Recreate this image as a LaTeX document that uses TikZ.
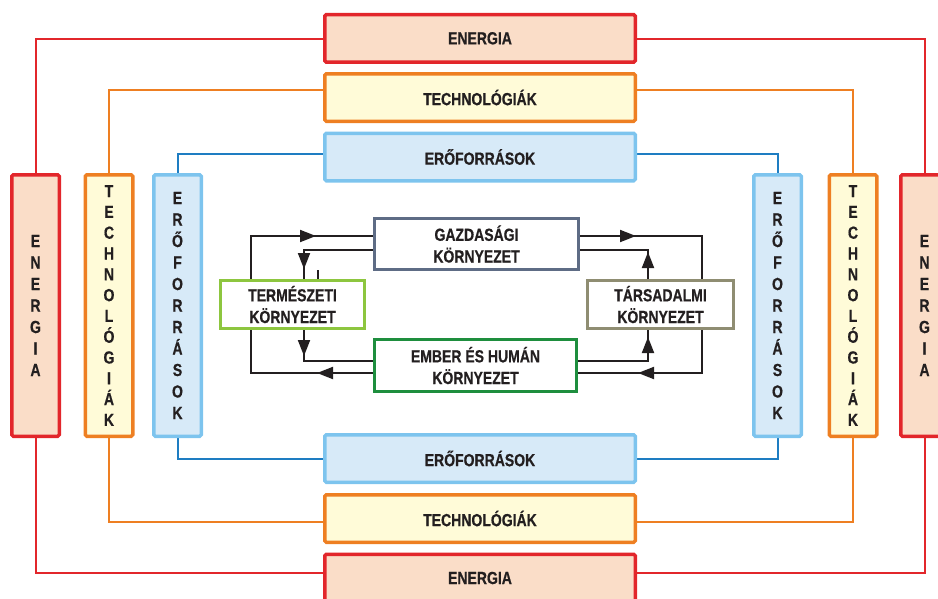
\documentclass[tikz,border=0pt]{standalone}
\usepackage{fontspec}
\setmainfont[FakeStretch=0.8, BoldFeatures={FakeBold=0.6}]{Liberation Sans}
\usepackage{tikz}
\usetikzlibrary{arrows.meta,decorations.markings,backgrounds}

\definecolor{ink}{HTML}{231F20}
\definecolor{enline}{HTML}{E2262B}
\definecolor{enfill}{HTML}{FADDC8}
\definecolor{teline}{HTML}{EE7F22}
\definecolor{tefill}{HTML}{FFFBD8}
\definecolor{erline}{HTML}{7DC4EE}
\definecolor{erfill}{HTML}{D7EAF8}
\definecolor{erwire}{HTML}{1E7DC2}
\definecolor{gazcol}{HTML}{5E6C85}
\definecolor{tercol}{HTML}{8DC63F}
\definecolor{embcol}{HTML}{1E8E3E}
\definecolor{tarcol}{HTML}{8F8D72}

\begin{document}
\begin{tikzpicture}[x=1pt,y=-1pt,
  hbox/.style={draw, line width=3.5pt, rounded corners=1.5pt, inner sep=0pt,
    minimum width=310.5pt, minimum height=47.5pt, text=ink,
    font=\fontsize{17.5}{21}\selectfont\bfseries},
  vbox/.style={hbox, minimum width=47.5pt, minimum height=261.5pt, align=center,
    font=\fontsize{17.5}{21.5}\selectfont\bfseries},
  kbox/.style={draw, line width=3pt, fill=white, inner sep=0pt, align=center, text=ink,
    font=\fontsize{17.5}{21.7}\selectfont\bfseries},
  wire/.style={line width=2pt},
  flow/.style={draw=ink, line width=1.9pt},
  arrowat/.style={postaction={decorate, decoration={markings,
    mark=at position #1 with {\arrow{Triangle[length=16pt,width=12pt]}}}}}
]
  \useasboundingbox (0,0) rectangle (938,598);
  \clip (0,0) rectangle (938,598);

  % horizontal bands, top and bottom
  \node[hbox, draw=enline, fill=enfill] (enT) at (480,38.3) {ENERGIA};
  \node[hbox, draw=teline, fill=tefill] (teT) at (480,97.5) {TECHNOLÓGIÁK};
  \node[hbox, draw=erline, fill=erfill] (erT) at (480,157) {ERŐFORRÁSOK};
  \node[hbox, draw=erline, fill=erfill] (erB) at (480,458.5) {ERŐFORRÁSOK};
  \node[hbox, draw=teline, fill=tefill] (teB) at (480,518.5) {TECHNOLÓGIÁK};
  \node[hbox, draw=enline, fill=enfill] (enB) at (480,578) {ENERGIA};

  % vertical bands, left and right
  \node[vbox, draw=enline, fill=enfill] (enL) at (35.5,305.5) {E\\N\\E\\R\\G\\I\\A};
  \node[vbox, draw=teline, fill=tefill, font=\fontsize{17.5}{20.8}\selectfont\bfseries]
    (teL) at (109,305.5) {T\\E\\C\\H\\N\\O\\L\\Ó\\G\\I\\Á\\K};
  \node[vbox, draw=erline, fill=erfill] (erL) at (177.5,305.5) {E\\R\\Ő\\F\\O\\R\\R\\Á\\S\\O\\K};
  \node[vbox, draw=erline, fill=erfill] (erR) at (777.5,305.5) {E\\R\\Ő\\F\\O\\R\\R\\Á\\S\\O\\K};
  \node[vbox, draw=teline, fill=tefill, font=\fontsize{17.5}{20.8}\selectfont\bfseries]
    (teR) at (853,305.5) {T\\E\\C\\H\\N\\O\\L\\Ó\\G\\I\\Á\\K};
  \node[vbox, draw=enline, fill=enfill] (enR) at (924.5,305.5) {E\\N\\E\\R\\G\\I\\A};

  % the four environments
  \node[kbox, draw=gazcol, minimum width=204pt, minimum height=51pt] (gaz) at (476.5,244)
    {GAZDASÁGI\\KÖRNYEZET};
  \node[kbox, draw=tercol, minimum width=144pt, minimum height=48pt] (ter) at (292.5,304.5)
    {TERMÉSZETI\\KÖRNYEZET};
  \node[kbox, draw=tarcol, minimum width=146pt, minimum height=48pt] (tar) at (660.5,304.5)
    {TÁRSADALMI\\KÖRNYEZET};
  \node[kbox, draw=embcol, minimum width=202pt, minimum height=52pt] (emb) at (475.5,365.5)
    {EMBER ÉS HUMÁN\\KÖRNYEZET};

  \begin{scope}[on background layer]
    % frame wires
    \draw[wire, enline] ([yshift=-1pt]enT.west) -| (enL.north);
    \draw[wire, enline] ([yshift=-1pt]enT.east) -| (enR.north);
    \draw[wire, enline] ([yshift=5pt]enB.west) -| (enL.south);
    \draw[wire, enline] ([yshift=5pt]enB.east) -| (enR.south);
    \draw[wire, teline] ([yshift=7.5pt]teT.west) -| (teL.north);
    \draw[wire, teline] ([yshift=7.5pt]teT.east) -| (teR.north);
    \draw[wire, teline] ([yshift=-3.5pt]teB.west) -| (teL.south);
    \draw[wire, teline] ([yshift=-3.5pt]teB.east) -| (teR.south);
    \draw[wire, erwire] ([yshift=3pt]erT.west) -| (erL.north);
    \draw[wire, erwire] ([yshift=3pt]erT.east) -| (erR.north);
    \draw[wire, erwire] (erB.west) -| (erL.south);
    \draw[wire, erwire] (erB.east) -| (erR.south);

    % feedback loops
    \draw[flow, arrowat=56pt, arrowat=-57pt]
      ([yshift=-7.5pt]emb.west) -| (251,236) -- ([yshift=8pt]gaz.west);
    \draw[flow, arrowat=-10pt] ([yshift=-6pt]gaz.west) -| ([xshift=11.5pt]ter.north);
    \draw[flow, line width=1.4pt] ([xshift=25.5pt]ter.north) -- ++(0,-9);
    \draw[flow, arrowat=26pt] ([xshift=11.5pt]ter.south) |- ([yshift=4.5pt]emb.west);
    \draw[flow, arrowat=56pt, arrowat=-60pt]
      ([yshift=8pt]gaz.east) -| (702,373) -- ([yshift=-7.5pt]emb.east);
    \draw[flow, arrowat=27pt] ([xshift=-12.5pt]tar.north) |- ([yshift=-6pt]gaz.east);
    \draw[flow, arrowat=-7pt] ([yshift=4.5pt]emb.east) -| ([xshift=-12.5pt]tar.south);
  \end{scope}
\end{tikzpicture}
\end{document}
